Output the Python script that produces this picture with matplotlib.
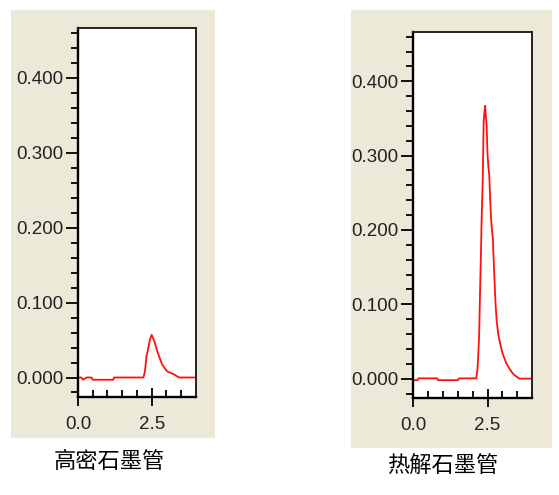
import matplotlib
matplotlib.use("Agg")
import matplotlib.pyplot as plt
from matplotlib.patches import Rectangle
from matplotlib.ticker import MultipleLocator, FixedLocator

plt.rcParams['font.family'] = ['Liberation Sans', 'DejaVu Sans']

# data
x_dense = [0.0, 0.12, 0.17, 0.25, 0.29, 0.46, 0.50, 1.20, 1.22, 2.22, 2.27, 2.33,
           2.37, 2.44, 2.50, 2.54, 2.60, 2.69, 2.78, 2.86, 2.95, 3.03, 3.15, 3.26,
           3.43, 4.0]
y_dense = [0.0, 0.0, -0.003, -0.001, 0.0, 0.0, -0.003, -0.003, 0.0, 0.0, 0.008, 0.030,
           0.036, 0.051, 0.057, 0.053, 0.047, 0.035, 0.025, 0.017, 0.012, 0.008, 0.006,
           0.004, 0.0, 0.0]

x_pyro = [0.0, 0.15, 0.18, 0.81, 0.84, 1.50, 1.55, 2.12, 2.16, 2.18, 2.22, 2.25, 2.28,
          2.30, 2.34, 2.37, 2.40, 2.42, 2.44, 2.47, 2.50, 2.53, 2.56, 2.59, 2.62, 2.65,
          2.68, 2.71, 2.74, 2.77, 2.81, 2.86, 2.92, 2.99, 3.06, 3.14, 3.23, 3.31, 3.40,
          3.50, 3.57, 4.0]
y_pyro = [-0.002, -0.002, 0.0004, 0.0004, -0.002, -0.002, 0.0004, 0.0004, 0.012, 0.025,
          0.060, 0.119, 0.170, 0.210, 0.270, 0.346, 0.360, 0.367, 0.355, 0.340, 0.302,
          0.285, 0.273, 0.240, 0.215, 0.200, 0.188, 0.155, 0.128, 0.100, 0.077, 0.060,
          0.048, 0.036, 0.028, 0.020, 0.014, 0.009, 0.005, 0.002, 0.0, 0.0]

labels = ['高密石墨管', '热解石墨管']
x_ticks = [0.0, 2.5]
y_ticks = [0.0, 0.1, 0.2, 0.3, 0.4]

beige = '#ECE9D8'
fig = plt.figure(figsize=(5.59, 4.95), dpi=100)
fig.patch.set_facecolor('white')

# grey panel behind each chart
fig.patches.append(Rectangle((0.0197, 0.115), 0.365, 0.865, transform=fig.transFigure,
                             facecolor=beige, edgecolor='none', zorder=-5))
fig.patches.append(Rectangle((0.628, 0.095), 0.3596, 0.885, transform=fig.transFigure,
                             facecolor=beige, edgecolor='none', zorder=-5))

ax1 = fig.add_axes([0.1395, 0.198, 0.211, 0.745])
ax2 = fig.add_axes([0.739, 0.196, 0.213, 0.739])

for ax, xs, ys in [(ax1, x_dense, y_dense), (ax2, x_pyro, y_pyro)]:
    ax.plot(xs, ys, color='#FF1010', lw=1.3)
    ax.set_xlim(0, 4.0)
    ax.set_ylim(-0.026, 0.466)
    ax.xaxis.set_major_locator(FixedLocator(x_ticks))
    ax.xaxis.set_minor_locator(MultipleLocator(0.5))
    ax.yaxis.set_major_locator(FixedLocator(y_ticks))
    ax.yaxis.set_minor_locator(MultipleLocator(0.02))
    ax.xaxis.set_major_formatter(plt.FuncFormatter(lambda v, p: '%.1f' % v))
    ax.yaxis.set_major_formatter(plt.FuncFormatter(lambda v, p: '%.3f' % v))
    ax.tick_params(axis='y', which='major', direction='out', length=8.6, width=1.3,
                   pad=2, labelsize=13.5, labelcolor='#222222')
    ax.tick_params(axis='y', which='minor', direction='out', length=5, width=1.3)
    ax.tick_params(axis='x', which='major', direction='inout', length=13, width=1.3,
                   pad=7, labelsize=13.5, labelcolor='#222222')
    ax.tick_params(axis='x', which='minor', direction='in', length=5, width=1.3)
    for side in ['left', 'bottom']:
        ax.spines[side].set_linewidth(1.7)
    for side in ['top', 'right']:
        ax.spines[side].set_linewidth(1.4)
        ax.spines[side].set_color('#222222')

fig.text(0.196, 0.0667, labels[0], ha='center', va='center', fontsize=16,
         family=['Noto Sans CJK SC', 'DejaVu Sans'])
fig.text(0.791, 0.0606, labels[1], ha='center', va='center', fontsize=16,
         family=['Noto Sans CJK SC', 'DejaVu Sans'])

fig.savefig('out.png', dpi=100)
